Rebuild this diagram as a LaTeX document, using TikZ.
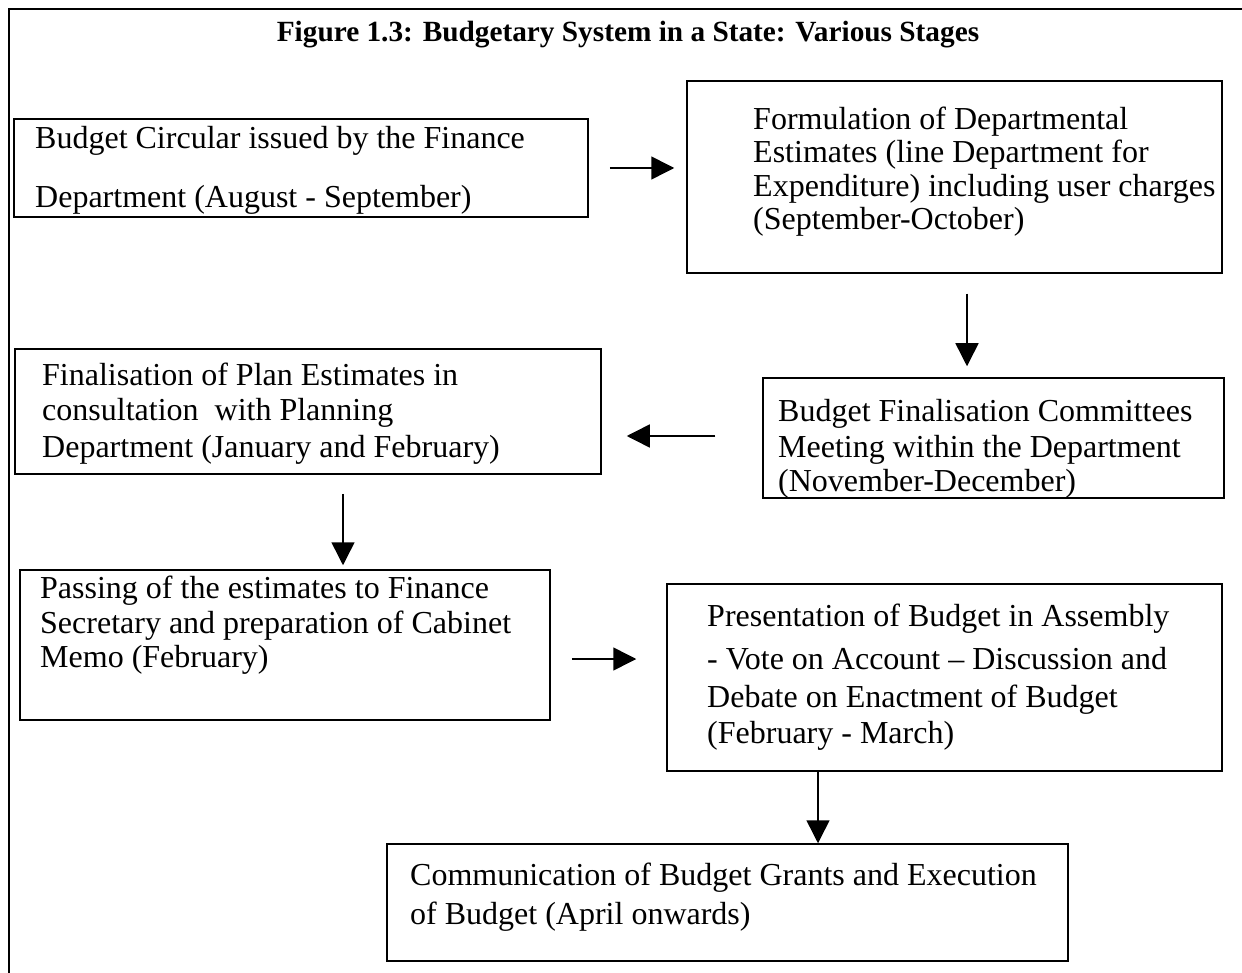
\documentclass[tikz,border=0pt]{standalone}
\usepackage{fontspec}
\setmainfont{Liberation Serif}
\usetikzlibrary{arrows.meta,fit}
\tikzset{
  box/.style={draw, line width=1.5pt, inner sep=0pt, rectangle},
  ln/.style={anchor=base west, inner sep=0pt, font=\fontsize{32}{38}\selectfont},
  ttl/.style={anchor=base, inner sep=0pt, font=\fontsize{29.3}{35}\selectfont\bfseries},
  arr/.style={line width=1.5pt, -{Triangle[length=23pt,width=23pt]}}
}
\begin{document}
\begin{tikzpicture}[x=1pt,y=-1pt]
\useasboundingbox (0,0) rectangle (1242,973);
% outer frame (left and top only visible)
\draw[line width=2pt] (9,975) -- (9,9) -- (1244,9);
\node[ttl] (title) at (628,42) {Figure 1.3: Budgetary System in a State: Various Stages};
% boxes
\node[box, fit={(14,119) (588,217)}] (b1) {};
\node[box, fit={(687,81) (1222,273)}] (b2) {};
\node[box, fit={(763,378) (1224,498)}] (b3) {};
\node[box, fit={(15,349) (601,474)}] (b4) {};
\node[box, fit={(20,570) (550,720)}] (b5) {};
\node[box, fit={(667,584) (1222,771)}] (b6) {};
\node[box, fit={(387,844) (1068,961)}] (b7) {};
% texts
\node[ln] (t1a) at (35,149) {Budget Circular issued by the Finance};
\node[ln] (t1b) at (35,208) {Department (August - September)};
\node[ln] (t2a) at (753,130) {Formulation of Departmental};
\node[ln] (t2b) at (753,163) {Estimates (line Department for};
\node[ln] (t2c) at (753,197) {Expenditure) including user charges};
\node[ln] (t2d) at (753,230) {(September-October)};
\node[ln] (t3a) at (778,421) {Budget Finalisation Committees};
\node[ln] (t3b) at (778,457) {Meeting within the Department};
\node[ln] (t3c) at (778,491) {(November-December)};
\node[ln] (t4a) at (42,385) {Finalisation of Plan Estimates in};
\node[ln] (t4b) at (42,420) {consultation\ \ with Planning};
\node[ln] (t4c) at (42,457) {Department (January and February)};
\node[ln] (t5a) at (40,598) {Passing of the estimates to Finance};
\node[ln] (t5b) at (40,633) {Secretary and preparation of Cabinet};
\node[ln] (t5c) at (40,667) {Memo (February)};
\node[ln] (t6a) at (707,626) {Presentation of Budget in Assembly};
\node[ln] (t6b) at (707,669) {- Vote on Account -- Discussion and};
\node[ln] (t6c) at (707,707) {Debate on Enactment of Budget};
\node[ln] (t6d) at (707,743) {(February - March)};
\node[ln] (t7a) at (410,885) {Communication of Budget Grants and Execution};
\node[ln] (t7b) at (410,924) {of Budget (April onwards)};
% arrows
\draw[arr, shorten <=21pt, shorten >=12pt] (b1.east) -- (b1.east -| b2.west);
\draw[arr, shorten <=20pt, shorten >=11pt] (967,0 |- b2.south) -- (967,0 |- b3.north);
\draw[arr, shorten <=47pt, shorten >=25pt] (b3.west |- 0,436) -- (b4.east |- 0,436);
\draw[arr, shorten <=19pt, shorten >=4pt] (343,0 |- b4.south) -- (343,0 |- b5.north);
\draw[arr, shorten <=21pt, shorten >=30pt] (b5.east |- 0,659) -- (b6.west |- 0,659);
\draw[arr] (818,0 |- b6.south) -- (818,0 |- b7.north);
\end{tikzpicture}
\end{document}
